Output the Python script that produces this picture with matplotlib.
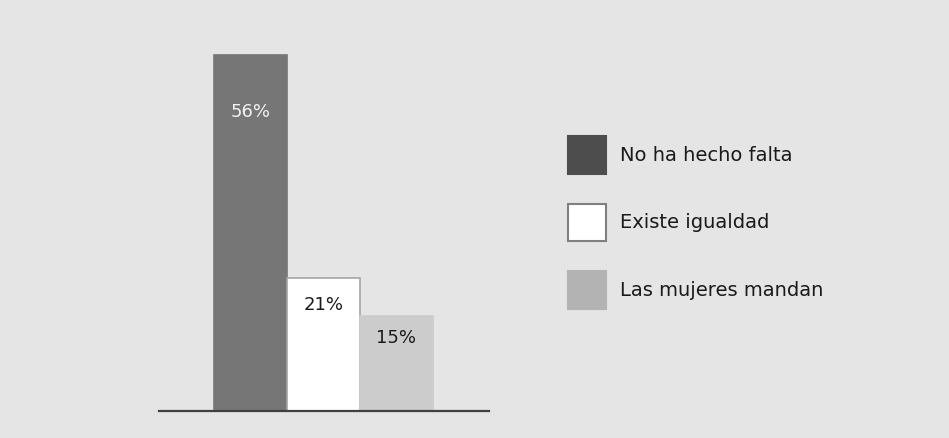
import matplotlib.pyplot as plt
from matplotlib.patches import Patch

# Survey answers and their shares (%)
categories = ["No ha hecho falta", "Existe igualdad", "Las mujeres mandan"]
values = [56, 21, 15]
labels = ["56%", "21%", "15%"]

bar_colors = ["#767676", "#ffffff", "#cccccc"]
bar_edges = ["#767676", "#a6a6a6", "#cccccc"]
legend_colors = ["#4d4d4d", "#ffffff", "#b3b3b3"]
legend_edges = ["#4d4d4d", "#808080", "#b3b3b3"]
label_colors = ["#f2f2f2", "#1a1a1a", "#1a1a1a"]
label_offsets = [-41, -20, -16]  # points below the bar top

BG = "#e5e5e5"
W, H = 949, 438

fig = plt.figure(figsize=(W / 100, H / 100), dpi=100, facecolor=BG)
ax = fig.add_axes([159 / W, 27 / H, 330 / W, 381 / H])
ax.set_facecolor(BG)

x = range(len(values))
ax.bar(x, values, width=1.0, color=bar_colors, edgecolor=bar_edges, linewidth=1.2)
ax.set_xlim(-1.25, 3.27)
ax.set_ylim(0, 60)

for xi, v, lab, col, off in zip(x, values, labels, label_colors, label_offsets):
    ax.annotate(lab, (xi, v), xytext=(0, off), textcoords="offset points",
                ha="center", va="center", fontsize=13, color=col)

for side in ["top", "right", "left"]:
    ax.spines[side].set_visible(False)
ax.spines["bottom"].set_color("#404040")
ax.spines["bottom"].set_linewidth(1.6)
ax.set_xticks([])
ax.set_yticks([])

handles = [Patch(facecolor=fc, edgecolor=ec, linewidth=1.5)
           for fc, ec in zip(legend_colors, legend_edges)]
fig.legend(handles, categories, loc="upper left",
           bbox_to_anchor=(568 / W, 1 - 136 / H), frameon=False,
           fontsize=14, borderpad=0, borderaxespad=0,
           handlelength=1.95, handleheight=2.61, handletextpad=0.75,
           labelspacing=1.53, labelcolor="#1a1a1a")

fig.savefig("out.png", dpi=100, facecolor=BG)
